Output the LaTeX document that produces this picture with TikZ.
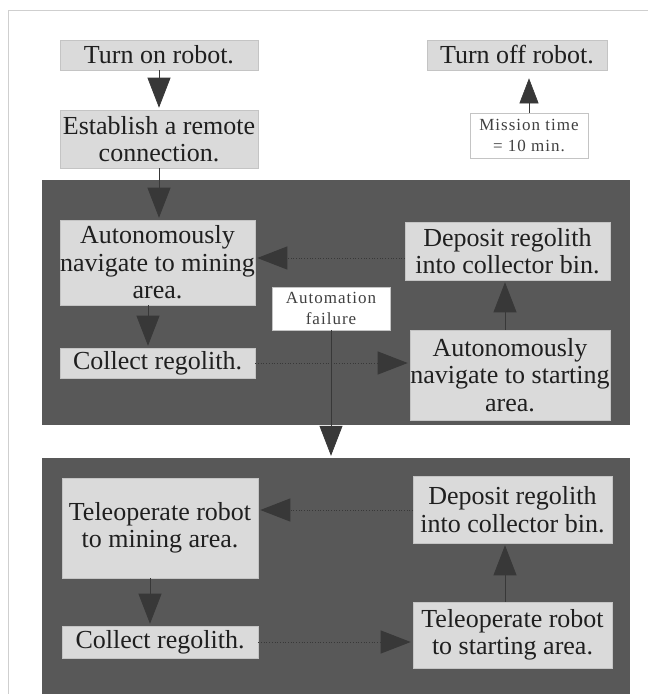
\documentclass[tikz,border=0pt]{standalone}
\usepackage{fontspec}
\setmainfont{Liberation Serif}
\usetikzlibrary{arrows.meta,calc}

\definecolor{panelgray}{HTML}{585858}
\definecolor{boxgray}{HTML}{DADADA}
\definecolor{boxedge}{HTML}{C4C4C4}
\definecolor{inkgray}{HTML}{383838}
\definecolor{framegray}{HTML}{CFCFCF}

\tikzset{
  stepbox/.style={rectangle, fill=boxgray, draw=boxedge, line width=0.6pt,
    inner sep=0pt, align=center, text=black!88,
    font=\fontsize{26}{27.5}\selectfont},
  notebox/.style={rectangle, fill=white, draw=boxedge, line width=0.6pt,
    inner sep=0pt, align=center, text=black!75,
    font=\fontsize{17}{21}\selectfont\addfontfeatures{LetterSpace=6}},
  panel/.style={rectangle, fill=panelgray, draw=none, inner sep=0pt},
  flow/.style={draw=inkgray, line width=0.7pt,
    -{Triangle[width=23pt,length=30pt]}, shorten >=2pt},
  flowh/.style={flow, dotted, line width=1pt},
  flowsmall/.style={draw=inkgray, line width=0.6pt,
    -{Triangle[width=19pt,length=25pt]}, shorten >=8pt},
}

\begin{document}
\begin{tikzpicture}[x=1pt,y=-1pt]
  \useasboundingbox (0,0) rectangle (648,694);
  \begin{scope}
    \clip (0,0) rectangle (648,694);

    % page frame
    \draw[framegray, line width=1pt] (8,720) -- (8,10) -- (660,10);

    % the two mode panels
    \node[panel, minimum width=588pt, minimum height=245pt] (auto) at (336,302.5) {};
    \node[panel, minimum width=588pt, minimum height=242pt] (tele) at (336,579) {};

    % start / stop steps
    \node[stepbox, minimum width=198pt, minimum height=30pt] (on) at (159,55) {Turn on robot.};
    \node[stepbox, minimum width=198pt, minimum height=58pt] (est) at (159,139) {Establish a remote\\connection.};
    \node[stepbox, minimum width=180pt, minimum height=30pt] (off) at (517,55) {Turn off robot.};
    \node[notebox, minimum width=118pt, minimum height=45pt] (time) at (529,135.5) {Mission time\\= 10 min.};

    % autonomous loop
    \node[stepbox, minimum width=195pt, minimum height=85pt] (mine1) at (157.5,262.5) {Autonomously\\navigate to mining\\area.};
    \node[stepbox, minimum width=205pt, minimum height=58pt] (dep1) at (507.5,251) {Deposit regolith\\into collector bin.};
    \node[stepbox, minimum width=195pt, minimum height=30pt] (coll1) at (157.5,363) {Collect regolith.};
    \node[stepbox, minimum width=200pt, minimum height=90pt] (start1) at (510,375) {Autonomously\\navigate to starting\\area.};
    \node[notebox, minimum width=118pt, minimum height=43pt] (fail) at (331,308.5) {Automation\\failure};

    % teleoperated loop
    \node[stepbox, minimum width=196pt, minimum height=100pt] (mine2) at (160,528) {Teleoperate robot\\to mining area.};
    \node[stepbox, minimum width=199pt, minimum height=67pt] (dep2) at (512.5,509.5) {Deposit regolith\\into collector bin.};
    \node[stepbox, minimum width=196pt, minimum height=32pt] (coll2) at (160,642) {Collect regolith.};
    \node[stepbox, minimum width=199pt, minimum height=66pt] (start2) at (512.5,635) {Teleoperate robot\\to starting area.};

    % connectors
    \draw[flow] (on) -- (est);
    \draw[flowsmall] (time.north) -- (off.south -| time.north);
    \draw[flow] (est) -- (mine1.north -| est.south);

    \draw[flow] (mine1.south -| 148,0) -- (coll1.north -| 148,0);
    \draw[flowh] (coll1.east) -- (coll1.east -| start1.west);
    \draw[flow] (start1.north -| 505,0) -- (dep1.south -| 505,0);
    \draw[flowh] (dep1.west |- 0,258) -- (mine1.east |- 0,258);

    \draw[flow] (fail.south) -- (tele.north -| fail.south);

    \draw[flow] (mine2.south -| 150,0) -- (coll2.north -| 150,0);
    \draw[flowh] (coll2.east) -- (coll2.east -| start2.west);
    \draw[flow] (start2.north -| 505,0) -- (dep2.south -| 505,0);
    \draw[flowh] (dep2.west |- 0,510) -- (mine2.east |- 0,510);
  \end{scope}
\end{tikzpicture}
\end{document}
